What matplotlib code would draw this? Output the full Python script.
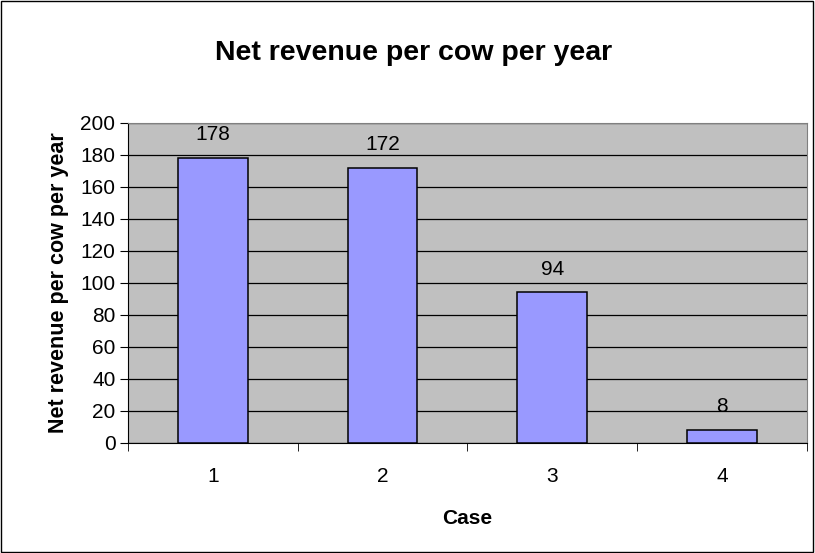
import numpy as np
import matplotlib.pyplot as plt
from matplotlib.patches import Rectangle

plt.rcParams['font.family'] = ['Liberation Sans', 'DejaVu Sans']

# net revenue per cow per year, by case
cases = ['1', '2', '3', '4']
revenue = [178, 172, 94, 8]

fig = plt.figure(figsize=(8.15, 5.53), dpi=100)
ax = fig.add_axes([0.157, 0.199, 0.833, 0.579])

x = np.arange(len(cases))
ax.bar(x, revenue, width=0.41, color='#9999FF', edgecolor='black', linewidth=1.1, zorder=3)
for xi, v in zip(x, revenue):
    ax.annotate(str(v), (xi, v), xytext=(0, 10), textcoords='offset points',
                ha='center', va='bottom', fontsize=15)

ax.set_facecolor('#C0C0C0')
ax.set_xlim(-0.5, len(cases) - 0.5)
ax.set_ylim(0, 200)
ax.set_yticks(np.arange(0, 201, 20))
ax.yaxis.grid(True, color='black', linewidth=0.9)
ax.set_axisbelow(True)

# category labels centred, tick marks on the boundaries
ax.set_xticks(x)
ax.set_xticklabels(cases)
ax.set_xticks(np.arange(-0.5, len(cases)), minor=True)
ax.tick_params(axis='x', which='major', length=0, pad=17, labelsize=15)
ax.tick_params(axis='x', which='minor', length=6, direction='out', color='black')
ax.tick_params(axis='y', length=6, direction='out', labelsize=15, pad=3)

for side in ['top', 'right']:
    ax.spines[side].set_color('#808080')
for side in ['left', 'bottom']:
    ax.spines[side].set_color('black')

ax.set_xlabel('Case', fontsize=15, fontweight='bold', labelpad=17)
ax.set_ylabel('Net revenue per cow per year', fontsize=15.5, fontweight='bold', labelpad=8)
fig.text(0.508, 0.905, 'Net revenue per cow per year', ha='center', va='center',
         fontsize=20.5, fontweight='bold')

# chart frame
fig.patches.append(Rectangle((0.001, 0.002), 0.996, 0.996, transform=fig.transFigure,
                             fill=False, edgecolor='black', linewidth=1.0))

fig.savefig('out.png', dpi=100)
